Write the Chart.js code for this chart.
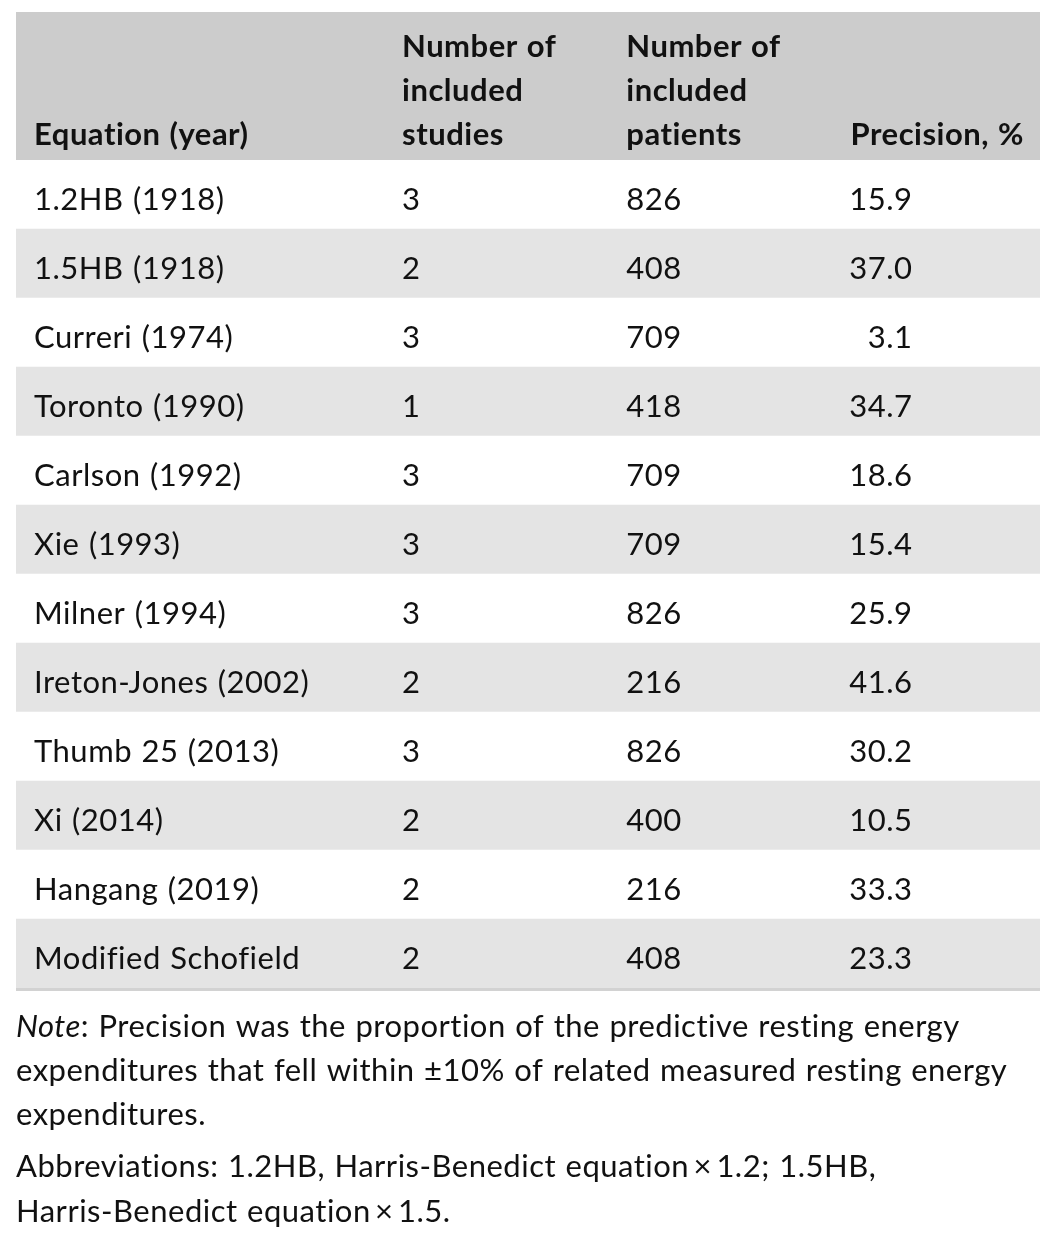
<!DOCTYPE html>
<html>
<head>
<meta charset="utf-8">
<script src="https://cdn.jsdelivr.net/npm/chart.js@4.4.1/dist/chart.umd.min.js"></script>
<style>
  html, body { margin: 0; padding: 0; background: #ffffff; }
  #wrap { width: 1056px; height: 1240px; position: relative; }
</style>
</head>
<body>
<div id="wrap"><canvas id="c" width="1056" height="1240"></canvas></div>
<script>
// ---- data ----
const equations = ["1.2HB (1918)", "1.5HB (1918)", "Curreri (1974)", "Toronto (1990)", "Carlson (1992)", "Xie (1993)", "Milner (1994)", "Ireton-Jones (2002)", "Thumb 25 (2013)", "Xi (2014)", "Hangang (2019)", "Modified Schofield"];
const studies = [3, 2, 3, 1, 3, 3, 3, 2, 3, 2, 2, 2];
const patients = [826, 408, 709, 418, 709, 709, 826, 216, 826, 400, 216, 408];
const precision = [15.9, 37.0, 3.1, 34.7, 18.6, 15.4, 25.9, 41.6, 30.2, 10.5, 33.3, 23.3];
const headerEquation = ["Equation (year)"];
const headerStudies = ["Number of", "included", "studies"];
const headerPatients = ["Number of", "included", "patients"];
const headerPrecision = ["Precision, %"];
const noteItalic = "Note";
const noteLines = [": Precision was the proportion of the predictive resting energy", "expenditures that fell within \u00b110% of related measured resting energy", "expenditures."];
const abbrevLines = ["Abbreviations: 1.2HB, Harris-Benedict equation\u2009\u00d7\u20091.2; 1.5HB,", "Harris-Benedict equation\u2009\u00d7\u20091.5."];

// ---- style ----
const FONT = "Lato, 'Noto Sans', sans-serif";
const SIZE = 31;
const TEXT = "#111111";
const HEADER_BG = "#cccccc";
const STRIPE = "#e4e4e4";
const BORDER = "#d2d2d2";
// column anchors as positions on the x scale (0..1 spans the table width)
const COLS = { eq: 0.0176, studies: 0.377, patients: 0.596, prec: 0.815, precRight: 0.8755 };

function setSpacing(ctx) {
  if ('letterSpacing' in ctx) ctx.letterSpacing = '0.5px';
  if ('wordSpacing' in ctx) ctx.wordSpacing = '1px';
}

const tablePlugin = {
  id: 'tablePlugin',
  beforeDatasetsDraw(chart) {
    const ctx = chart.ctx;
    const x = chart.scales.x;
    const area = chart.chartArea;
    ctx.save();
    ctx.fillStyle = HEADER_BG;
    ctx.fillRect(x.getPixelForValue(0), 12, x.getPixelForValue(1) - x.getPixelForValue(0), area.top - 12);
    ctx.restore();
  },
  afterDatasetsDraw(chart) {
    const ctx = chart.ctx;
    const x = chart.scales.x;
    const y = chart.scales.y;
    const area = chart.chartArea;
    ctx.save();
    setSpacing(ctx);
    ctx.fillStyle = TEXT;
    ctx.textBaseline = 'alphabetic';
    // header text
    ctx.font = "bold " + SIZE + "px " + FONT;
    const lastBase = area.top - 15;
    const drawHeader = (lines, col) => {
      ctx.textAlign = 'left';
      lines.forEach((t, i) => {
        ctx.fillText(t, x.getPixelForValue(col), lastBase - (lines.length - 1 - i) * 44);
      });
    };
    drawHeader(headerEquation, COLS.eq);
    drawHeader(headerStudies, COLS.studies);
    drawHeader(headerPatients, COLS.patients);
    drawHeader(headerPrecision, COLS.prec);

    // body cells
    ctx.font = SIZE + "px " + FONT;
    equations.forEach((eq, i) => {
      const cy = y.getPixelForValue(i) + 15;
      ctx.textAlign = 'left';
      ctx.fillText(eq, x.getPixelForValue(COLS.eq), cy);
      ctx.fillText(String(studies[i]), x.getPixelForValue(COLS.studies), cy);
      ctx.fillText(String(patients[i]), x.getPixelForValue(COLS.patients), cy);
      ctx.textAlign = 'right';
      ctx.fillText(precision[i].toFixed(1), x.getPixelForValue(COLS.precRight), cy);
    });

    // bottom rule
    ctx.fillStyle = BORDER;
    ctx.fillRect(x.getPixelForValue(0), area.bottom, x.getPixelForValue(1) - x.getPixelForValue(0), 3);

    // notes
    ctx.fillStyle = TEXT;
    ctx.textAlign = 'left';
    const left = x.getPixelForValue(0);
    let base = area.bottom + 49;
    ctx.font = "italic " + SIZE + "px " + FONT;
    ctx.fillText(noteItalic, left, base);
    const w = ctx.measureText(noteItalic).width;
    ctx.font = SIZE + "px " + FONT;
    ctx.fillText(noteLines[0], left + w, base);
    for (let i = 1; i < noteLines.length; i++) {
      base += 44;
      ctx.fillText(noteLines[i], left, base);
    }
    base += 52;
    abbrevLines.forEach((t, i) => {
      ctx.fillText(t, left, base + i * 45);
    });
    ctx.restore();
  }
};

new Chart(document.getElementById('c'), {
  type: 'bar',
  data: {
    labels: equations,
    datasets: [{
      data: equations.map(() => [0, 1]),
      backgroundColor: equations.map((_, i) => i % 2 === 1 ? STRIPE : '#ffffff'),
      borderWidth: 0,
      barPercentage: 1,
      categoryPercentage: 1
    }]
  },
  options: {
    indexAxis: 'y',
    responsive: false,
    animation: false,
    events: [],
    layout: { padding: { left: 16, right: 16, top: 160, bottom: 252 } },
    plugins: { legend: { display: false }, tooltip: { enabled: false } },
    scales: {
      x: { type: 'linear', min: 0, max: 1, display: false },
      y: { type: 'category', display: false, offset: true, grid: { display: false } }
    }
  },
  plugins: [tablePlugin]
});
</script>
</body>
</html>
